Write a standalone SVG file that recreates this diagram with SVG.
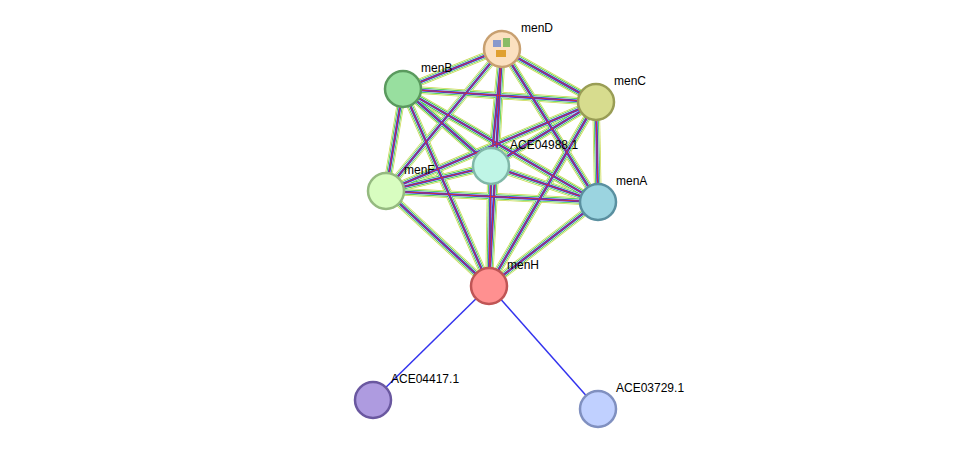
<svg xmlns="http://www.w3.org/2000/svg" xmlns:xlink="http://www.w3.org/1999/xlink" width="975" height="455" viewBox="0 0 975 455">
<style>
text{font-family:"Liberation Sans",Arial,sans-serif;font-size:12px;fill:#000}
.n{stroke-width:2.5}
.e use{fill:none}
.y use{stroke:#c8d84a;stroke-width:7.5}
.w1 use{stroke:#ffffff;stroke-width:6}
.g use{stroke:#2cc52c;stroke-width:5}
.w2 use{stroke:#ffffff;stroke-width:3.6}
.b use{stroke:#3a3ad8;stroke-width:2.6}
.r use{stroke:#e03030;stroke-width:0.9}
</style>
<defs>
<g id="E">
<line x1="502" y1="49" x2="403" y2="89"/>
<line x1="502" y1="49" x2="596" y2="102"/>
<line x1="502" y1="49" x2="491" y2="166"/>
<line x1="502" y1="49" x2="386" y2="191"/>
<line x1="502" y1="49" x2="598" y2="202"/>
<line x1="502" y1="49" x2="489" y2="286"/>
<line x1="403" y1="89" x2="596" y2="102"/>
<line x1="403" y1="89" x2="491" y2="166"/>
<line x1="403" y1="89" x2="386" y2="191"/>
<line x1="403" y1="89" x2="598" y2="202"/>
<line x1="403" y1="89" x2="489" y2="286"/>
<line x1="596" y1="102" x2="491" y2="166"/>
<line x1="596" y1="102" x2="386" y2="191"/>
<line x1="596" y1="102" x2="598" y2="202"/>
<line x1="596" y1="102" x2="489" y2="286"/>
<line x1="491" y1="166" x2="386" y2="191"/>
<line x1="491" y1="166" x2="598" y2="202"/>
<line x1="491" y1="166" x2="489" y2="286"/>
<line x1="386" y1="191" x2="598" y2="202"/>
<line x1="386" y1="191" x2="489" y2="286"/>
<line x1="598" y1="202" x2="489" y2="286"/>
</g>
</defs>
<g id="connectors" class="e">
<g class="y"><use xlink:href="#E"/></g>
<g class="w1"><use xlink:href="#E"/></g>
<g class="g"><use xlink:href="#E"/></g>
<g class="w2"><use xlink:href="#E"/></g>
<g class="b"><use xlink:href="#E"/></g>
<g class="r"><use xlink:href="#E"/></g>
<line x1="489" y1="286" x2="373" y2="400" stroke="#3333ee" stroke-width="1.5"/>
<line x1="489" y1="286" x2="598" y2="409" stroke="#3333ee" stroke-width="1.5"/>
</g>
<g id="menD"><circle class="n" cx="502" cy="49" r="18" fill="#fbe0c0" stroke="#c8a070"/>
<rect x="493" y="40" width="8" height="7" fill="#8899cc"/><rect x="503" y="38" width="7" height="9" fill="#88bb66"/><rect x="496" y="50" width="10" height="7" fill="#e0a030"/><text x="521" y="32">menD</text></g>
<g id="menB"><circle class="n" cx="403" cy="89" r="18" fill="#98df9f" stroke="#5a9a5e"/><text x="421" y="72">menB</text></g>
<g id="menC"><circle class="n" cx="596" cy="102" r="18" fill="#d7dc8e" stroke="#999d55"/><text x="614" y="85">menC</text></g>
<g id="ACE04988.1"><circle class="n" cx="491" cy="166" r="18" fill="#bff5e6" stroke="#80b8a8"/><text x="510" y="149">ACE04988.1</text></g>
<g id="menF"><circle class="n" cx="386" cy="191" r="18" fill="#d8fdc0" stroke="#95ba80"/><text x="404" y="174">menF</text></g>
<g id="menA"><circle class="n" cx="598" cy="202" r="18" fill="#9bd4e0" stroke="#5a90a0"/><text x="616" y="185">menA</text></g>
<g id="menH"><circle class="n" cx="489" cy="286" r="18" fill="#ff9090" stroke="#c05555"/><text x="507" y="269">menH</text></g>
<g id="ACE04417.1"><circle class="n" cx="373" cy="400" r="18" fill="#ae9be0" stroke="#6a58a0"/><text x="391" y="383">ACE04417.1</text></g>
<g id="ACE03729.1"><circle class="n" cx="598" cy="409" r="18" fill="#c0d0ff" stroke="#8090c0"/><text x="616" y="392">ACE03729.1</text></g>
</svg>
